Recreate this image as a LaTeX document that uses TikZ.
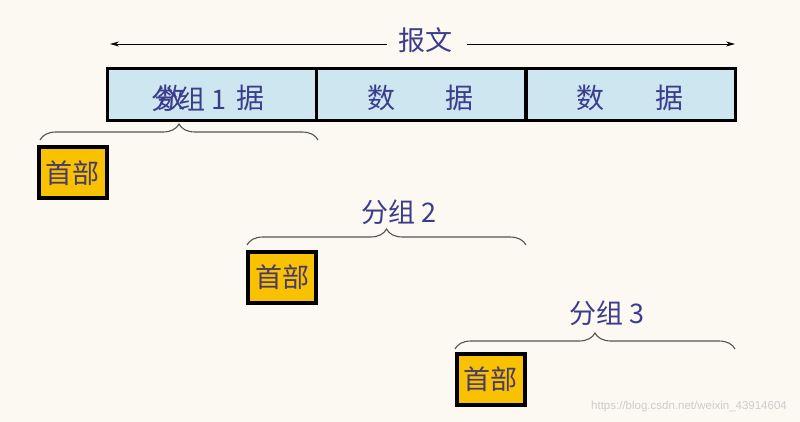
\documentclass[tikz,border=0pt]{standalone}
\usepackage{fontspec}
\setmainfont{Liberation Sans}
\newfontfamily\cjk{Noto Sans CJK SC}
\usetikzlibrary{decorations.pathreplacing,arrows.meta}
\definecolor{bg}{HTML}{FCF8F2}
\definecolor{txtblue}{HTML}{3C3C8C}
\definecolor{hdrtxt}{HTML}{4A3A6A}
\definecolor{cellfill}{HTML}{CDE6F0}
\definecolor{hdrfill}{HTML}{F8C200}
\definecolor{bracegray}{HTML}{555555}
\begin{document}
\begin{tikzpicture}[x=1pt,y=1pt,
  cell/.style={draw=black,line width=3pt,fill=cellfill,minimum width=209pt,minimum height=52pt,inner sep=0pt},
  celltext/.style={font=\cjk\fontsize{28}{30}\selectfont,text=txtblue,inner sep=0pt},
  label/.style={font=\cjk\fontsize{27}{29}\selectfont,text=txtblue,inner sep=1pt},
  hdr/.style={draw=black,line width=4pt,fill=hdrfill,minimum width=68pt,minimum height=51pt,inner sep=0pt,font=\cjk\fontsize{27}{29}\selectfont,text=hdrtxt},
  grpbrace/.style={draw=bracegray,line width=1.1pt,decorate,decoration={brace,amplitude=16pt}},
  msgarrow/.style={draw=black,line width=0.9pt,-{Stealth[length=9pt,width=5pt]}}
]
\fill[bg] (0,0) rectangle (800,-422);
\useasboundingbox (0,0) rectangle (800,-422);

% data cells
\node[cell] (c1) at (211.5,-95) {};
\node[cell] (c2) at (421,-95) {};
\node[cell] (c3) at (630.5,-95) {};
\node[celltext] (d1a) at (171.5,-98) {数};
\node[celltext] (d1b) at (250,-98) {据};
\node[celltext] (d2a) at (381,-98) {数};
\node[celltext] (d2b) at (459.5,-98) {据};
\node[celltext] (d3a) at (590.5,-98) {数};
\node[celltext] (d3b) at (669,-98) {据};

% message arrow
\node[label] (msg) at (425,-40) {报文};
\coordinate (ml) at (110,-44);
\coordinate (mr) at (735,-44);
\draw[msgarrow] (msg.west |- ml) ++(-10,0) coordinate (mlw) -- (ml);
\draw[msgarrow] (msg.east |- mr) ++(14,0) coordinate (mre) -- (mr);

% group 1
\node[label] (g1) at (189,-99) {分组 1};
\coordinate (b1l) at (40,-140);
\coordinate (b1r) at (318,-140);
\draw[grpbrace] (b1l) -- (b1r);
\node[hdr] (h1) at (72.5,-173) {首部};

% group 2
\node[label] (g2) at (399,-212) {分组 2};
\coordinate (b2l) at (247,-245);
\coordinate (b2r) at (526,-245);
\draw[grpbrace] (b2l) -- (b2r);
\node[hdr] (h2) at (282,-277) {首部};

% group 3
\node[label] (g3) at (607,-313) {分组 3};
\coordinate (b3l) at (455,-349);
\coordinate (b3r) at (735,-349);
\draw[grpbrace] (b3l) -- (b3r);
\node[hdr] (h3) at (490.5,-379.5) {首部};

% watermark
\node[font=\fontsize{11.5}{13}\selectfont,text=black!20,inner sep=0pt] (wm) at (689,-407) {https://blog.csdn.net/weixin\_43914604};
\end{tikzpicture}
\end{document}
